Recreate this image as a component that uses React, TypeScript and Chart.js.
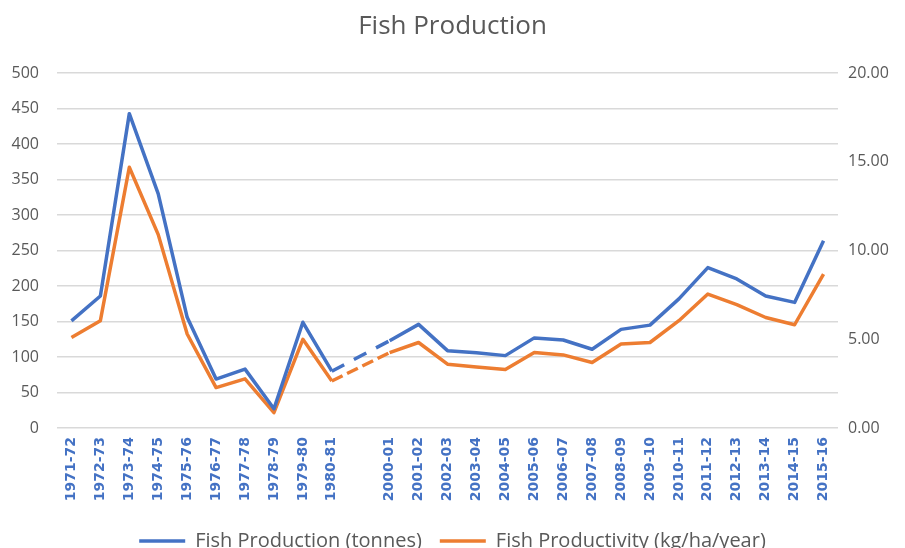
import React, { useEffect, useRef } from "react";
import { Chart, registerables } from "chart.js";

Chart.register(...registerables);

const categories = [
  "1971-72", "1972-73", "1973-74", "1974-75", "1975-76", "1976-77", "1977-78", "1978-79", "1979-80", "1980-81",
  "",
  "2000-01", "2001-02", "2002-03", "2003-04", "2004-05", "2005-06", "2006-07", "2007-08", "2008-09", "2009-10",
  "2010-11", "2011-12", "2012-13", "2013-14", "2014-15", "2015-16",
];

const production = [
  151, 186, 443, 330, 156, 69, 83, 27, 149, 80,
  null,
  123, 146, 109, 106, 102, 127, 124, 111, 139, 145,
  182, 226, 210, 186, 177, 264,
];

const productivity = [
  5.1, 6.05, 14.7, 10.9, 5.3, 2.28, 2.77, 0.87, 5.0, 2.65,
  null,
  4.25, 4.82, 3.6, 3.44, 3.3, 4.25, 4.12, 3.69, 4.73, 4.82,
  6.05, 7.55, 6.95, 6.23, 5.82, 8.68,
];

const leftTicks = { min: 0, max: 500, step: 50 };
const rightTicks = { min: 0, max: 20, step: 5 };

const BLUE = "#4472C4";
const ORANGE = "#ED7D31";
const GREY = "#595959";
const FONT = "'Open Sans', 'DejaVu Sans', sans-serif";
const LABEL_FONT = "'DejaVu Sans', sans-serif";

export default function App() {
  const ref = useRef<HTMLCanvasElement | null>(null);

  useEffect(() => {
    if (!ref.current) return;
    const gapDash = (data: (number | null)[], dash: number[]) => (ctx: any) => {
      const a = ctx.p0DataIndex;
      const b = ctx.p1DataIndex;
      let gap = false;
      for (let i = Math.min(a, b); i <= Math.max(a, b); i++) {
        if (data[i] == null) gap = true;
      }
      return gap ? dash : undefined;
    };

    const chart = new Chart(ref.current, {
      type: "line",
      data: {
        labels: categories,
        datasets: [
          {
            label: "Fish Production (tonnes)",
            data: production,
            borderColor: BLUE,
            backgroundColor: BLUE,
            borderWidth: 3.5,
            pointRadius: 0,
            tension: 0,
            spanGaps: true,
            borderJoinStyle: "round",
            yAxisID: "y",
            segment: { borderDash: gapDash(production, [14, 11]) },
          },
          {
            label: "Fish Productivity (kg/ha/year)",
            data: productivity,
            borderColor: ORANGE,
            backgroundColor: ORANGE,
            borderWidth: 3.5,
            pointRadius: 0,
            tension: 0,
            spanGaps: true,
            borderJoinStyle: "round",
            yAxisID: "y1",
            segment: { borderDash: gapDash(productivity, [12, 5]) },
          },
        ],
      },
      options: {
        animation: false,
        responsive: false,
        maintainAspectRatio: false,
        layout: { padding: { left: 0, right: 0, top: 0, bottom: 0 } },
        plugins: {
          tooltip: { enabled: false },
          title: {
            display: true,
            text: "Fish Production",
            color: GREY,
            font: { family: FONT, size: 26, weight: "normal" },
            padding: { top: 11, bottom: 31 },
          },
          legend: {
            position: "bottom",
            labels: {
              usePointStyle: true,
              pointStyle: "line",
              pointStyleWidth: 46,
              color: GREY,
              font: { family: FONT, size: 20 },
              padding: 18,
            },
          },
        },
        scales: {
          x: {
            offset: true,
            grid: { display: false, drawTicks: false },
            border: { display: false },
            ticks: {
              autoSkip: false,
              minRotation: 90,
              maxRotation: 90,
              color: BLUE,
              padding: 9,
              font: { family: LABEL_FONT, size: 14, weight: "bold" },
            },
            afterFit: (s: any) => {
              s.height = 85;
            },
          },
          y: {
            position: "left",
            min: leftTicks.min,
            max: leftTicks.max,
            grid: { color: "#d9d9d9", lineWidth: 1.5, drawTicks: false },
            border: { display: false },
            ticks: {
              stepSize: leftTicks.step,
              color: GREY,
              padding: 18,
              font: { family: FONT, size: 16 },
            },
            afterFit: (s: any) => {
              s.width = 57;
            },
          },
          y1: {
            position: "right",
            min: rightTicks.min,
            max: rightTicks.max,
            grid: { drawOnChartArea: false, drawTicks: false },
            border: { display: false },
            ticks: {
              stepSize: rightTicks.step,
              color: GREY,
              padding: 10,
              font: { family: FONT, size: 16 },
              callback: (v: any) => Number(v).toFixed(2),
            },
            afterFit: (s: any) => {
              s.width = 67;
            },
          },
        },
      },
    });
    return () => chart.destroy();
  }, []);

  return (
    <div
      style={{
        position: "fixed",
        left: 0,
        top: 0,
        width: 905,
        height: 548,
        overflow: "hidden",
        background: "#ffffff",
      }}
    >
      <canvas ref={ref} width={905} height={561} style={{ display: "block" }} />
    </div>
  );
}
